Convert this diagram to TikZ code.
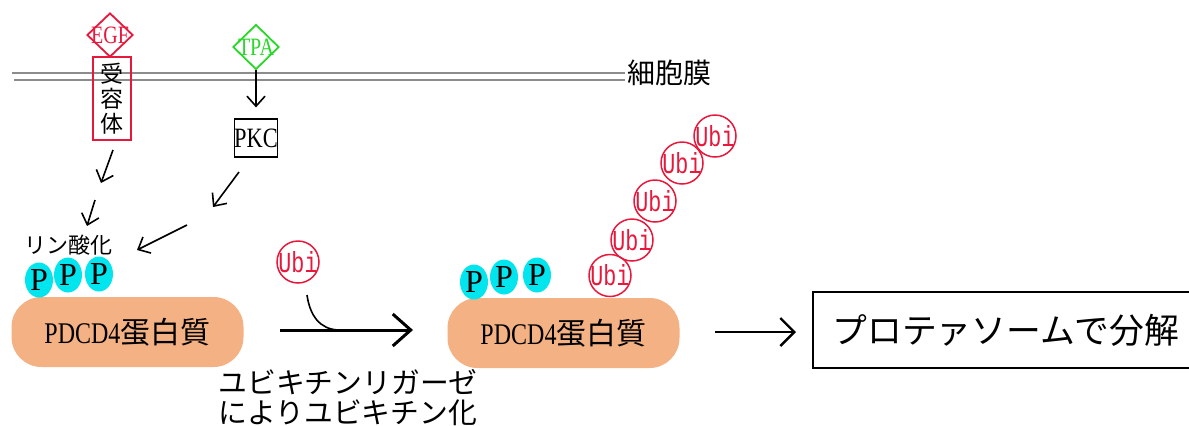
\documentclass[tikz,border=0pt]{standalone}
\usepackage{fontspec}
\setmainfont{Liberation Serif}
\newfontfamily\jp{Noto Sans CJK JP}
\newfontfamily\cserif[FakeStretch=0.8]{Liberation Serif}
\newfontfamily\cmono[FakeStretch=0.75]{Liberation Mono}
\usetikzlibrary{shapes.geometric,arrows.meta}
\definecolor{ured}{RGB}{232,24,60}
\definecolor{tgreen}{RGB}{40,215,40}
\definecolor{pcyan}{RGB}{0,229,238}
\definecolor{porange}{RGB}{244,177,131}
\definecolor{memgray}{RGB}{140,140,140}
\tikzset{
  sig/.style={draw, diamond, aspect=1, inner sep=-3pt, line width=0.9pt, font=\cserif\fontsize{12.5}{12.5}\selectfont},
  pdot/.style={ellipse, fill=pcyan, inner sep=0pt, minimum width=14pt, minimum height=17.5pt, font=\fontsize{16}{16}\selectfont},
  ubi/.style={circle, draw=ured, text=ured, line width=0.75pt, inner sep=-2pt, minimum size=21pt, font=\cmono\fontsize{14.5}{14.5}\selectfont},
  protein/.style={fill=porange, rounded corners=15pt, minimum width=116pt, minimum height=35pt, inner sep=0pt, font=\fontsize{15}{15}\selectfont},
  thin arrow/.style={line width=0.8pt, -{Straight Barb[length=5pt,width=9pt]}},
  big arrow/.style={line width=1.5pt, -{Straight Barb[length=9pt,width=16pt]}},
  mem/.style={draw=memgray, line width=0.8pt},
}
\begin{document}
\begin{tikzpicture}[x=0.5pt,y=-0.5pt]
\useasboundingbox (0,0) rectangle (1189,425);
% membrane
\coordinate (m1a) at (12,73); \coordinate (m1b) at (625,73);
\coordinate (m2a) at (14,80); \coordinate (m2b) at (625,80);
\draw[mem] (m1a) -- (m1b);
\draw[mem] (m2a) -- (m2b);
\node[anchor=west, font=\jp\fontsize{14}{14}\selectfont, inner sep=0pt] (memlabel) at (627,73) {細胞膜};
% EGF and receptor
\node[sig, draw=ured, text=ured, minimum width=23pt, minimum height=22pt] (egf) at (110,35) {EGF};
\node[draw=ured, line width=1pt, minimum width=19pt, minimum height=41.5pt, inner sep=0pt, align=center,
      font=\jp\fontsize{11.5}{12.5}\selectfont] (rec) at (112,98.5) {受\\容\\体};
% TPA and PKC
\node[sig, draw=tgreen, text=tgreen, minimum width=23pt, minimum height=22.5pt] (tpa) at (256,47) {TPA};
\node[draw, line width=0.6pt, minimum size=19pt, inner sep=0pt, font=\cserif\fontsize{14}{14}\selectfont] (pkc) at (256,138) {PKC};
\draw[thin arrow, shorten >=5.5pt] (tpa.south) -- (pkc.north);
% phosphorylation arrows
\coordinate (ra1) at (113,150); \coordinate (rb1) at (101,183);
\coordinate (ra2) at (95,200);  \coordinate (rb2) at (87,226);
\coordinate (pa1) at (239,172); \coordinate (pb1) at (213,207);
\coordinate (pa2) at (187,225); \coordinate (pb2) at (137,250);
\draw[thin arrow] (ra1) -- (rb1);
\draw[thin arrow] (ra2) -- (rb2);
\draw[thin arrow] (pa1) -- (pb1);
\draw[thin arrow] (pa2) -- (pb2);
\node[font=\jp\fontsize{11}{11}\selectfont, inner sep=0pt] (phos) at (69,245) {リン酸化};
% first protein
\node[protein] (prot1) at (127.5,332) {{\cserif PDCD4}{\jp 蛋白質}};
\node[pdot] (p1) at (39,280) {P};
\node[pdot] (p2) at (68,275) {P};
\node[pdot] (p3) at (99,274) {P};
% ubiquitination step
\node[ubi] (ubi0) at (298,262) {Ubi};
\coordinate (arA) at (280,330); \coordinate (arB) at (413,330);
\draw[big arrow] (arA) -- (arB);
\coordinate (cu1) at (307,295); \coordinate (cu2) at (338,330);
\draw[line width=0.8pt] (cu1) .. controls (310,316) and (320,329) .. (cu2);
\node[font=\jp\fontsize{14.4}{15}\selectfont, align=left, inner sep=0pt, anchor=north west] (ligase) at (218,369) {ユビキチンリガーゼ\\によりユビキチン化};
% second protein
\node[protein] (prot2) at (563.5,333) {{\cserif PDCD4}{\jp 蛋白質}};
\node[pdot] (q1) at (474,282) {P};
\node[pdot] (q2) at (504,277) {P};
\node[pdot] (q3) at (537,275) {P};
\node[ubi] (u1) at (610,275.5) {Ubi};
\node[ubi] (u2) at (632,240) {Ubi};
\node[ubi] (u3) at (655,201) {Ubi};
\node[ubi] (u4) at (682,163) {Ubi};
\node[ubi] (u5) at (715,136) {Ubi};
% degradation box (runs off the right edge)
\node[minimum height=38pt, inner sep=0pt, anchor=west,
      font=\jp\fontsize{17.4}{17.4}\selectfont] (prot) at (832,330) {プロテァソームで分解};
\coordinate (bx1) at (1189,292); \coordinate (bx2) at (813,292);
\coordinate (bx3) at (813,368); \coordinate (bx4) at (1189,368);
\draw[line width=1.2pt] (bx1) -- (bx2) -- (bx3) -- (bx4);
\coordinate (dA) at (715,332); \coordinate (dB) at (796,332);
\draw[line width=1.2pt, -{Straight Barb[length=7pt,width=14pt]}] (dA) -- (dB);
\end{tikzpicture}
\end{document}
